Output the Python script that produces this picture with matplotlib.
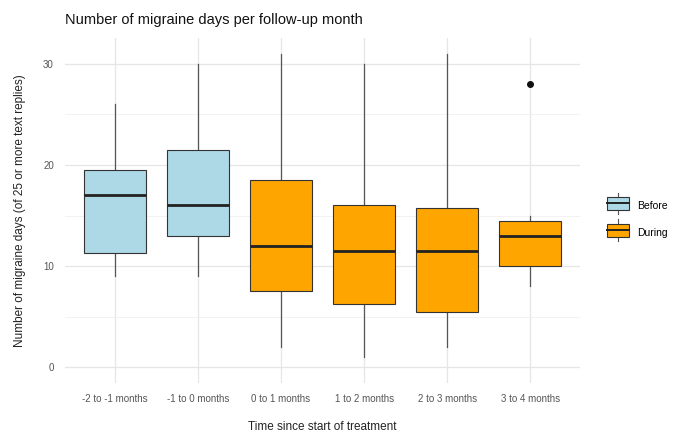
import matplotlib.pyplot as plt
from matplotlib.legend_handler import HandlerBase
from matplotlib.patches import Rectangle
from matplotlib.lines import Line2D

plt.rcParams['font.family'] = ['Liberation Sans', 'DejaVu Sans']

months = ["-2 to -1 months", "-1 to 0 months", "0 to 1 months",
          "1 to 2 months", "2 to 3 months", "3 to 4 months"]
period = ["Before", "Before", "During", "During", "During", "During"]

whislo = [9, 9, 2, 1, 2, 8]
q1 = [11.3, 13, 7.5, 6.25, 5.5, 10]
med = [17, 16, 12, 11.5, 11.5, 13]
q3 = [19.5, 21.5, 18.5, 16, 15.75, 14.5]
whishi = [26, 30, 31, 30, 31, 15]
outliers = [[], [], [], [], [], [28]]

fill = {"Before": "#ADD8E6", "During": "#FFA500"}
edge = "#333333"

fig = plt.figure(figsize=(6.73, 4.33), dpi=100)
ax = fig.add_axes([0.0966, 0.1155, 0.7654, 0.7965])

stats = []
for i in range(len(months)):
    stats.append(dict(whislo=whislo[i], q1=q1[i], med=med[i], q3=q3[i],
                      whishi=whishi[i], fliers=outliers[i]))

pos = list(range(1, len(months) + 1))
bp = ax.bxp(stats, positions=pos, widths=0.75, patch_artist=True,
            showcaps=False,
            boxprops=dict(edgecolor=edge, linewidth=0.8),
            whiskerprops=dict(color="#555555", linewidth=0.9),
            medianprops=dict(color="#222222", linewidth=2.0),
            flierprops=dict(marker="o", markerfacecolor="#111111",
                            markeredgecolor="#111111", markersize=4))
for box, p in zip(bp["boxes"], period):
    box.set_facecolor(fill[p])
for b in bp["boxes"]:
    b.set_zorder(3)
for m in bp["medians"]:
    m.set_zorder(4)

ax.set_xlim(0.4, 6.6)
ax.set_ylim(-1.55, 32.55)
ax.set_xticks(pos)
ax.set_xticklabels(months)
ax.set_yticks([0, 10, 20, 30])
ax.set_yticks([5, 15, 25], minor=True)
ax.grid(True, which="major", color="#e6e6e6", linewidth=0.9, zorder=0)
ax.grid(True, which="minor", axis="y", color="#f0f0f0", linewidth=0.6, zorder=0)
ax.set_axisbelow(True)
for s in ax.spines.values():
    s.set_visible(False)
ax.tick_params(which="both", length=0, labelsize=7, labelcolor="#555555", pad=8)

ax.set_xlabel("Time since start of treatment", fontsize=8.5, labelpad=12, color="#222222")
ax.set_ylabel("Number of migraine days (of 25 or more text replies)", fontsize=8.5,
              labelpad=12, color="#222222")
fig.text(0.0966, 0.945, "Number of migraine days per follow-up month",
         fontsize=10.5, color="#111111")


class BoxKey(HandlerBase):
    def create_artists(self, legend, orig, xd, yd, width, height, fontsize, trans):
        fc = orig.get_facecolor()
        cx = xd + width / 2
        y0 = yd - 1.5
        h = height + 3
        stub = Line2D([cx, cx], [y0 - 3, y0 + h + 3], color="#555555",
                      linewidth=0.8, transform=trans)
        rect = Rectangle((xd, y0), width, h, facecolor=fc,
                         edgecolor=edge, linewidth=0.8, transform=trans)
        mid = Line2D([xd, xd + width], [y0 + h / 2] * 2,
                     color="#222222", linewidth=1.4, transform=trans)
        return [stub, rect, mid]


handles = [Rectangle((0, 0), 1, 1, facecolor=fill["Before"]),
           Rectangle((0, 0), 1, 1, facecolor=fill["During"])]
fig.legend(handles, ["Before", "During"], handler_map={Rectangle: BoxKey()},
           loc="center left", bbox_to_anchor=(0.902, 0.493), frameon=False,
           borderpad=0, borderaxespad=0,
           fontsize=7.5, handlelength=2.1, handleheight=1.0, labelspacing=1.6,
           handletextpad=0.8)

fig.savefig("out.png", dpi=100)
